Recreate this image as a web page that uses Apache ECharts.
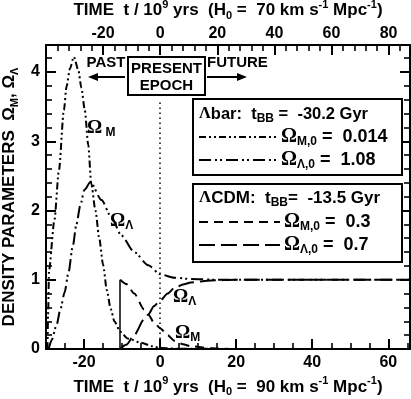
<!DOCTYPE html>
<html><head><meta charset="utf-8">
<script src="https://cdn.jsdelivr.net/npm/echarts@6/dist/echarts.min.js"></script>
<style>html,body{margin:0;padding:0;background:#fff}#c{width:411px;height:399px}</style>
</head><body><div id="c"></div>
<script>
// ---- axes (bottom: H0 = 90, top: H0 = 70) ----
const xRange = [-30, 65.7];
const tRange = [-40, 87.5];
const yRange = [0, 4.39];
const bottomMajorTicks = [-20, 0, 20, 40, 60];
const bottomMinorTicks = [-25, -15, -10, -5, 5, 10, 15, 25, 30, 35, 45, 50, 55, 65];
const topMajorTicks = [-20, 0, 20, 40, 60, 80];
const topMinorTicks = [-36, -32, -28, -24, -16, -12, -8, -4, 4, 8, 12, 16, 24, 28, 32, 36, 44, 48, 52, 56, 64, 68, 72, 76, 84];
const yMajorTicks = [1, 2, 3, 4];
const yMinorTicks = [0.2, 0.4, 0.6, 0.8, 1.2, 1.4, 1.6, 1.8, 2.2, 2.4, 2.6, 2.8, 3.2, 3.4, 3.6, 3.8, 4.2];

// ---- Lambda-bar model (t_BB = -30.2 Gyr) ----
const lbarM_t = [-29.6, -29.45, -29.2, -27.8, -26.6, -25.3, -24.6, -23.7, -22.7, -21.5, -20.7, -19.8, -18.9, -18.1, -17.0, -16.0, -15.0, -14.0, -13.0, -12.0, -10.5, -8.5, -5.0, -2.0, 0, 5, 20, 65.7];
const lbarM_v = [0, 0.5, 1.14, 1.86, 2.58, 3.45, 3.79, 4.05, 4.22, 4.03, 3.77, 3.45, 2.95, 2.39, 2.0, 1.6, 1.22, 0.85, 0.58, 0.40, 0.25, 0.15, 0.09, 0.04, 0.014, 0.004, 0, 0];
const lbarL_t = [-29.3, -28.5, -27.2, -26.2, -25.1, -24.1, -23.0, -22.0, -21.0, -19.9, -18.3, -15.4, -12.8, -10.2, -6.8, -3.1, 0, 3.7, 8.1, 15, 65.7];
const lbarL_v = [0, 0.13, 0.35, 0.58, 0.82, 1.1, 1.47, 1.8, 2.07, 2.3, 2.41, 2.15, 1.90, 1.64, 1.40, 1.21, 1.08, 1.03, 1.01, 1.0, 1.0];

// ---- Lambda-CDM model (t_BB = -13.5 Gyr at H0=70) ----
const lcdmBigBang = -10.5;
const lcdmM_t = [-10.5, -8.9, -6.8, -4.2, -3.1, -1.6, 0, 2, 3.7, 6, 8.1, 13.4, 20, 65.7];
const lcdmM_v = [1.0, 0.94, 0.80, 0.57, 0.50, 0.38, 0.30, 0.20, 0.12, 0.07, 0.04, 0.01, 0, 0];
const lcdmL_t = [-10.5, -8.9, -6.8, -4.2, -3.1, -1.6, 0, 2, 3.7, 6, 8.1, 13.4, 20, 65.7];
const lcdmL_v = [0, 0.06, 0.20, 0.43, 0.50, 0.62, 0.70, 0.80, 0.88, 0.93, 0.96, 0.99, 1.0, 1.0];

const zip = (a, b) => a.map((v, i) => [v, b[i]]);
const SANS = '"Liberation Sans", Arial, Helvetica, sans-serif';
const SERIF = '"Liberation Serif", "Times New Roman", serif';
const K = '#000';

const GRID = { left: 46, top: 45, width: 364, height: 304 };
const MAJOR_PX = 10, MINOR_PX = 6;
const pxX = GRID.width / (xRange[1] - xRange[0]);
const pxY = GRID.height / (yRange[1] - yRange[0]);

const dashM = [7, 3, 2, 3, 2, 3];
const dashL = [12, 4, 2, 3, 2, 4];
const dashCM = [9, 6];
const dashCL = [16, 6];

const richBase = {
  sup: { fontSize: 11, fontWeight: 'bold', fontFamily: SANS, color: K, verticalAlign: 'top', lineHeight: 11 },
  sub: { fontSize: 11, fontWeight: 'bold', fontFamily: SANS, color: K, verticalAlign: 'bottom', lineHeight: 11 }
};
const nameStyle = { color: K, fontSize: 17, fontWeight: 'bold', fontFamily: SANS, lineHeight: 22, rich: richBase };
const labelStyle = { color: K, fontSize: 16, fontWeight: 'bold', fontFamily: SANS };

function axis(position, range, interval, extra) {
  const a = {
    type: 'value', position, min: range[0], max: range[1],
    axisLine: { show: true, onZero: false, lineStyle: { color: K, width: 2 } },
    axisTick: { show: true, inside: true, length: MAJOR_PX, lineStyle: { color: K, width: 2 } },
    axisLabel: { show: false },
    splitLine: { show: false }
  };
  if (interval != null) a.interval = interval; else a.splitNumber = 5;
  return Object.assign(a, extra || {});
}
const labelOf = (margin) => Object.assign({ show: true, margin, showMinLabel: false, showMaxLabel: false }, labelStyle);

const xAxes = [
  axis('bottom', xRange, null, {
    axisLabel: labelOf(6),
    name: 'TIME  t / 10{sup|9} yrs  (H{sub|0} =  90 km s{sup|-1} Mpc{sup|-1})',
    nameLocation: 'middle', nameGap: 24, nameTextStyle: nameStyle
  }),
  axis('top', tRange, 20, {
    axisLabel: labelOf(3),
    name: 'TIME  t / 10{sup|9} yrs  (H{sub|0} =  70 km s{sup|-1} Mpc{sup|-1})',
    nameLocation: 'middle', nameGap: 20, nameTextStyle: nameStyle
  })
];
const yAxes = [
  axis('left', yRange, 1, {
    axisLabel: Object.assign({ show: true, margin: 6, showMinLabel: true, showMaxLabel: false }, labelStyle),
    name: 'DENSITY PARAMETERS  \u03A9{sub|M}, \u03A9{sub|\u039B}',
    nameLocation: 'middle', nameRotate: 90, nameGap: 17, nameTextStyle: nameStyle
  }),
  axis('right', yRange, 1)
];

function line(name, data, dash, extra) {
  return Object.assign({
    name, type: 'line', data, xAxisIndex: 0, yAxisIndex: 0,
    showSymbol: false, symbol: 'none', smooth: 0.25, smoothMonotone: 'x',
    lineStyle: { color: K, width: 2, type: dash }, z: 3, animation: false
  }, extra || {});
}

// inward tick marks as marker segments on the axes' own scales
function tickPair(a, b, major) {
  return [{ coord: a, lineStyle: { width: major ? 2 : 1.6, color: K, type: 'solid', opacity: 1 } }, { coord: b }];
}
const bottomTickData = bottomMajorTicks.map(v => tickPair([v, yRange[0]], [v, yRange[0] + MAJOR_PX / pxY], true))
  .concat(bottomMinorTicks.map(v => tickPair([v, yRange[0]], [v, yRange[0] + MINOR_PX / pxY], false)));
const yTickData = [];
yMajorTicks.forEach(v => {
  yTickData.push(tickPair([xRange[0], v], [xRange[0] + MAJOR_PX / pxX, v], true));
  yTickData.push(tickPair([xRange[1], v], [xRange[1] - MAJOR_PX / pxX, v], true));
});
yMinorTicks.forEach(v => {
  yTickData.push(tickPair([xRange[0], v], [xRange[0] + MINOR_PX / pxX, v], false));
  yTickData.push(tickPair([xRange[1], v], [xRange[1] - MINOR_PX / pxX, v], false));
});
const topTickData = topMajorTicks.map(v => tickPair([v, yRange[1]], [v, yRange[1] - MAJOR_PX / pxY], true))
  .concat(topMinorTicks.map(v => tickPair([v, yRange[1]], [v, yRange[1] - MINOR_PX / pxY], false)));

function tickHolder(name, xAxisIndex, data) {
  return {
    name, type: 'line', data: [], xAxisIndex, yAxisIndex: 0, silent: true, animation: false,
    symbol: 'none', lineStyle: { width: 0 }, z: 5,
    markLine: { silent: true, animation: false, symbol: ['none', 'none'], label: { show: false },
      emphasis: { disabled: true }, precision: 6, z: 5, data }
  };
}

const series = [
  line('Λbar Ω_M', zip(lbarM_t, lbarM_v), dashM),
  line('Λbar Ω_Λ', zip(lbarL_t, lbarL_v), dashL, {
    markLine: { silent: true, symbol: ['none', 'none'], label: { show: false },
      lineStyle: { color: K, width: 1.5, type: [1.5, 3.5] },
      data: [[{ coord: [0, 0] }, { coord: [0, 3.6] }]] }
  }),
  line('ΛCDM Ω_M', zip(lcdmM_t, lcdmM_v), dashCM, {
    markLine: { silent: true, symbol: ['none', 'none'], label: { show: false },
      lineStyle: { color: K, width: 1.5, type: 'solid' },
      data: [[{ coord: [lcdmBigBang, 0] }, { coord: [lcdmBigBang, 1] }]] }
  }),
  line('ΛCDM Ω_Λ', zip(lcdmL_t, lcdmL_v), dashCL),
  tickHolder('bottom/side ticks', 0, bottomTickData.concat(yTickData)),
  tickHolder('top ticks', 1, topTickData)
];

// ---- annotation helpers ----
function mkRich(base) {
  return {
    o: { fontSize: base + 2, fontWeight: 'bold', fontFamily: SERIF, fill: K, color: K, lineHeight: 22 },
    g: { fontSize: base, fontWeight: 'bold', fontFamily: SERIF, fill: K, color: K, lineHeight: 22 },
    l: { fontSize: base, fontWeight: 'bold', fontFamily: SANS, fill: K, color: K, lineHeight: 22 },
    s: { fontSize: 12, fontWeight: 'bold', fontFamily: SANS, fill: K, color: K, verticalAlign: 'bottom', lineHeight: 12 }
  };
}
function rtext(x, y, text, base) {
  return { type: 'text', z: 10, silent: true, style: { x, y, text, rich: mkRich(base || 16), fill: K,
    align: 'left', verticalAlign: 'middle', textAlign: 'left', textVerticalAlign: 'middle' } };
}
function ptext(x, y, text, align, size) {
  return { type: 'text', z: 10, silent: true, style: { x, y, text, fill: K,
    font: 'bold ' + (size || 15) + 'px ' + SANS,
    align: align || 'left', verticalAlign: 'middle', textAlign: align || 'left', textVerticalAlign: 'middle' } };
}
function seg(x1, y1, x2, y2, dash, w) {
  return { type: 'line', z: 10, silent: true, shape: { x1, y1, x2, y2 },
    style: { stroke: K, lineWidth: w || 2, lineDash: dash || null } };
}
function box(x, y, w, h) {
  return { type: 'rect', z: 9, silent: true, shape: { x, y, width: w, height: h },
    style: { fill: '#fff', stroke: K, lineWidth: 2 } };
}

const graphic = [
  ptext(106, 63, 'PAST', 'center'),
  seg(95, 77, 125, 77, null, 2),
  { type: 'polygon', z: 10, silent: true, shape: { points: [[88, 77], [98, 73], [98, 81]] }, style: { fill: K } },
  box(128, 57, 77, 38),
  ptext(166.5, 69, 'PRESENT', 'center'),
  ptext(166.5, 86, 'EPOCH', 'center'),
  ptext(207, 63, 'FUTURE', 'left'),
  seg(207, 77, 240, 77, null, 2),
  { type: 'polygon', z: 10, silent: true, shape: { points: [[247, 77], [237, 73], [237, 81]] }, style: { fill: K } },
  rtext(87, 128, '{o|\u03A9}{s| M}', 17),
  rtext(110, 221, '{o|\u03A9}{s|\u039B}', 17),
  rtext(173, 297, '{o|\u03A9}{s|\u039B}', 17),
  rtext(175, 333, '{o|\u03A9}{s|M}', 17),
  box(193, 99, 209, 76),
  rtext(199, 114, '{g|\u039B}{l|bar:  t}{s|BB}{l| =  -30.2 Gyr}', 16.5),
  seg(199, 137, 278, 137, dashM, 2),
  rtext(281, 137, '{o|\u03A9}{s|M,0}{l| =  0.014}', 18),
  seg(199, 160, 278, 160, dashL, 2),
  rtext(281, 160, '{o|\u03A9}{s|\u039B,0}{l| =  1.08}', 18),
  box(193, 184, 209, 78),
  rtext(199, 198, '{g|\u039B}{l|CDM:  t}{s|BB}{l|=  -13.5 Gyr}', 17),
  seg(199, 222, 280, 222, dashCM, 2),
  rtext(284, 222, '{o|\u03A9}{s|M,0}{l| =  0.3}', 18),
  seg(199, 245, 280, 245, dashCL, 2),
  rtext(284, 245, '{o|\u03A9}{s|\u039B,0}{l| =  0.7}', 18)
];

const chart = echarts.init(document.getElementById('c'), null, { renderer: 'canvas' });
chart.setOption({
  backgroundColor: '#fff',
  animation: false,
  textStyle: { fontFamily: SANS },
  grid: Object.assign({ containLabel: false, outerBoundsMode: 'none' }, GRID),
  xAxis: xAxes,
  yAxis: yAxes,
  series,
  graphic
});
</script>
</body></html>
